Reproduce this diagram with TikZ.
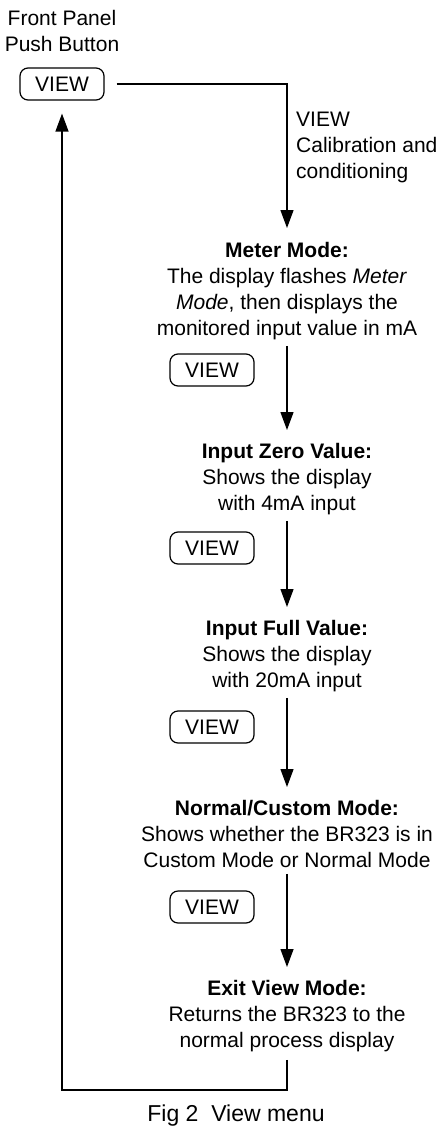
\documentclass[tikz,border=0pt]{standalone}
\usepackage{fontspec}
\setmainfont{Liberation Sans}
\usetikzlibrary{arrows.meta}

\begin{document}
\begin{tikzpicture}[x=1pt, y=-1pt,
    every node/.style={font=\fontsize{21}{26}\selectfont, inner sep=0pt},
    btn/.style={draw, rounded corners=8pt, minimum width=84pt, minimum height=32pt, line width=1.2pt},
    desc/.style={align=center, anchor=north},
    flow/.style={-{Triangle[length=18pt, width=13pt]}, line width=1.3pt, shorten <=6pt, shorten >=13pt}]
    \useasboundingbox (0,0) rectangle (443,1132);

    \node[align=center, anchor=north] at (62, 10) (fp) {Front Panel\\Push Button};
    \node[btn] at (62, 84) (V0) {VIEW};
    \node[align=left, anchor=north west] at (296, 112) (cal) {VIEW\\Calibration and\\conditioning};

    \node[desc] at (287, 242) (M) {\textbf{Meter Mode:}\\The display flashes \textit{Meter}\\\textit{Mode}, then displays the\\monitored input value in mA};
    \node[btn] at (212, 370) (V1) {VIEW};
    \node[desc] at (287, 443) (Z) {\textbf{Input Zero Value:}\\Shows the display\\with 4mA input};
    \node[btn] at (212, 548) (V2) {VIEW};
    \node[desc] at (287, 620) (F) {\textbf{Input Full Value:}\\Shows the display\\with 20mA input};
    \node[btn] at (212, 727) (V3) {VIEW};
    \node[desc] at (287, 800) (N) {\textbf{Normal/Custom Mode:}\\Shows whether the BR323 is in\\Custom Mode or Normal Mode};
    \node[btn] at (212, 907) (V4) {VIEW};
    \node[desc] at (287, 980) (E) {\textbf{Exit View Mode:}\\Returns the BR323 to the\\normal process display};

    \node[anchor=north, font=\fontsize{23}{28}\selectfont] at (236, 1105) (cap) {Fig 2\ \ View menu};

    \coordinate (back) at (62, 1090);

    \draw[flow, shorten <=12pt, shorten >=14pt] (V0.east) -| (M.north);
    \draw[flow] (M.south) -- (Z.north);
    \draw[flow] (Z.south) -- (F.north);
    \draw[flow] (F.south) -- (N.north);
    \draw[flow] (N.south) -- (E.north);
    \draw[flow, shorten <=8pt] (E.south) -- (E.south |- back) -| (V0.south);
\end{tikzpicture}
\end{document}
